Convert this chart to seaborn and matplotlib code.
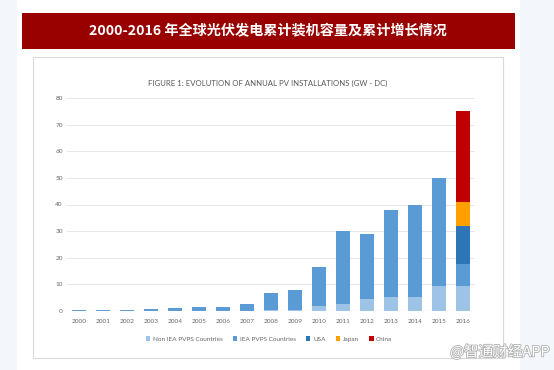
import matplotlib
matplotlib.use("Agg")
import matplotlib.pyplot as plt
import matplotlib.patheffects as pe
from matplotlib.patches import Rectangle, Patch
import seaborn as sns
import pandas as pd

# values (GW, annual installations)
years = [str(y) for y in range(2000, 2017)]
totals = [0.2, 0.3, 0.4, 0.6, 1.0, 1.4, 1.4, 2.5, 6.6, 7.9, 16.4, 30.2, 29.1, 38.0, 39.8, 49.9, 75.3]
non_iea = [0.05, 0.05, 0.1, 0.1, 0.1, 0.1, 0.1, 0.1, 0.2, 0.5, 1.9, 2.6, 4.5, 5.3, 5.3, 9.4, 9.4]
usa = [0] * 16 + [14.6]
japan = [0] * 16 + [8.8]
china = [0] * 16 + [34.4]
iea = [t - n - u - j - c for t, n, u, j, c in zip(totals, non_iea, usa, japan, china)]

series_names = ["Non IEA PVPS Countries", "IEA PVPS Countries", "USA", "Japan", "China"]
colors = ["#9dc3e6", "#5b9bd5", "#2e75b6", "#ffa000", "#c00000"]

df = pd.DataFrame({"year": years, "Non IEA PVPS Countries": non_iea,
                   "IEA PVPS Countries": iea, "USA": usa, "Japan": japan, "China": china})
cum = df[series_names].cumsum(axis=1)

W, H = 554, 370
fig = plt.figure(figsize=(W / 100, H / 100), dpi=100)
fig.patch.set_facecolor("#f3f7fc")

# page background / banner / panel drawn in pixel coordinates
bg = fig.add_axes([0, 0, 1, 1])
bg.set_xlim(0, W)
bg.set_ylim(H, 0)
bg.axis("off")
bg.add_patch(Rectangle((17, 0), 503, H, facecolor="white", edgecolor="none"))
bg.add_patch(Rectangle((22, 13), 493, 36, facecolor="#990000", edgecolor="none"))
bg.add_patch(Rectangle((33, 57), 470, 301, facecolor="white", edgecolor="#d9d9d9", lw=0.8))
bg.text(268, 31.5, "2000-2016 年全球光伏发电累计装机容量及累计增长情况", color="white",
        fontsize=10.2, fontweight="bold", ha="center", va="center",
        family=["Noto Sans CJK SC", "DejaVu Sans"])
bg.text(268, 83, "FIGURE 1: EVOLUTION OF ANNUAL PV INSTALLATIONS (GW - DC)", color="#595959",
        fontsize=5.55, ha="center", va="center", family="Lato")
bg.text(550, 352, "@智通财经APP", color="white", fontsize=10.5, ha="right", va="center",
        family=["Noto Sans CJK SC", "DejaVu Sans"],
        path_effects=[pe.withStroke(linewidth=1.2, foreground="#b0b0b0")])

ax = fig.add_axes([67 / W, (H - 311) / H, 408 / W, 213 / H])
ax.set_facecolor("none")

# stacked bars: draw cumulative totals from the top segment down
for name, col in zip(series_names[::-1], colors[::-1]):
    sns.barplot(x=df["year"], y=cum[name], color=col, width=0.6, ax=ax,
                saturation=1, edgecolor="none", zorder=3)

ax.set_ylim(0, 80)
ax.set_xlim(-0.5, 16.5)
ax.set_yticks(range(0, 81, 10))
ax.grid(axis="y", color="#e3e3e3", lw=0.6, zorder=0)
ax.axhline(0, color="#c8c8c8", lw=0.8, zorder=4)
for s in ax.spines.values():
    s.set_visible(False)
ax.tick_params(length=0, labelsize=4.6, labelcolor="#666666")
ax.tick_params(axis="x", pad=6)
ax.tick_params(axis="y", pad=3)
for lab in ax.get_xticklabels() + ax.get_yticklabels():
    lab.set_family("Lato")
ax.set_xlabel("")
ax.set_ylabel("")

handles = [Patch(facecolor=c, edgecolor="none") for c in colors]
leg = fig.legend(handles, series_names, loc="center", bbox_to_anchor=(269 / W, 1 - 339 / H),
                 ncol=5, frameon=False, handlelength=0.7, handleheight=0.7,
                 handletextpad=0.4, columnspacing=1.6, prop={"family": "Lato", "size": 4.6})
for t in leg.get_texts():
    t.set_color("#666666")

fig.savefig("out.png", dpi=100, facecolor=fig.get_facecolor())
